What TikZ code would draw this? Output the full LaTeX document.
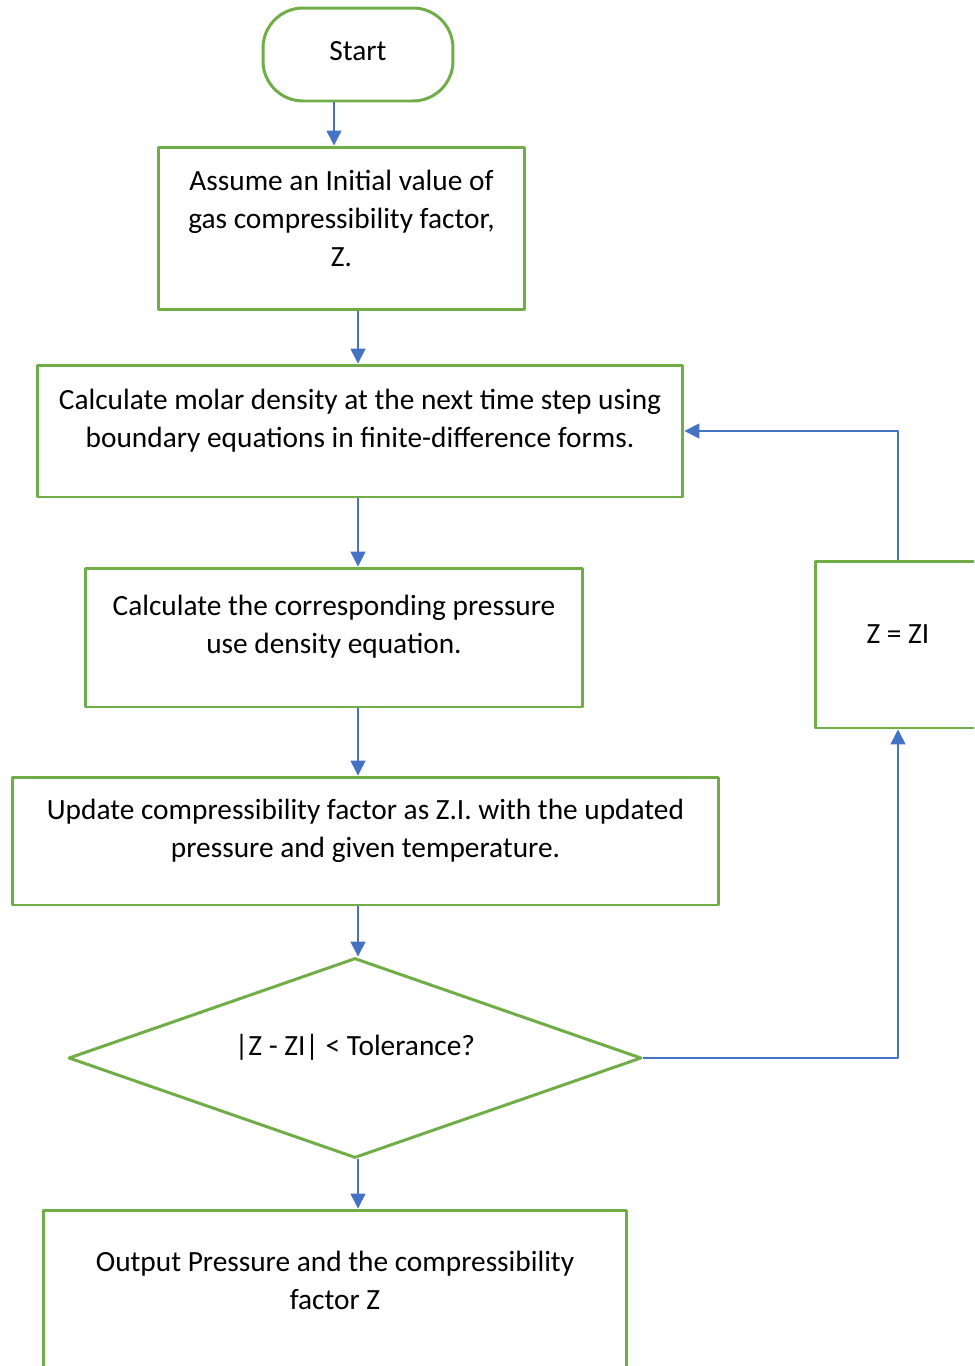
\documentclass[tikz,border=0pt]{standalone}
\usepackage{fontspec}
\setmainfont{Carlito}
\usetikzlibrary{arrows.meta,shapes.geometric}
\definecolor{boxgreen}{RGB}{112,173,71}
\definecolor{flowblue}{RGB}{68,114,196}
\begin{document}
\begin{tikzpicture}[x=0.02cm,y=-0.02cm,>={Triangle[length=0.3cm,width=0.3cm]},line join=round,
		font=\fontsize{16.7}{21.6}\selectfont,
		box/.style={draw=boxgreen,line width=1.7pt,inner sep=0pt},
		txt/.style={align=center,yshift=0.21cm},
		flow/.style={->,draw=flowblue,line width=0.85pt}]
	\path[use as bounding box,clip] (0,0) rectangle (974,1366);
	\coordinate (spine) at (358,0);
	\node[box,rounded corners=0.8cm,minimum width=3.8cm,minimum height=1.86cm,
		label={[txt,yshift=-0.14cm]center:Start}] (start) at (358,54.5) {};
	\node[box,minimum width=7.34cm,minimum height=3.26cm,
		label={[txt]center:{Assume an Initial value of\\gas compressibility factor,\\Z.}}] (b1) at (341.5,228.5) {};
	\node[box,minimum width=12.92cm,minimum height=2.64cm,
		label={[txt]center:{Calculate molar density at the next time step using\\boundary equations in finite-difference forms.}}] (b2) at (360,431) {};
	\node[box,minimum width=9.96cm,minimum height=2.78cm,
		label={[txt]center:{Calculate the corresponding pressure\\use density equation.}}] (b3) at (334,637.5) {};
	\node[box,minimum width=14.14cm,minimum height=2.56cm,
		label={[txt]center:{Update compressibility factor as Z.I. with the updated\\pressure and given temperature.}}] (b4) at (365.5,841) {};
	\node[box,diamond,aspect=2.865,minimum width=11.46cm,minimum height=4cm,
		label={[txt]center:{|Z - ZI| < Tolerance?}}] (dia) at (355,1058) {};
	\node[box,minimum width=11.68cm,minimum height=3.24cm,
		label={[txt]center:{Output Pressure and the compressibility\\factor Z}}] (b5) at (335,1291) {};
	\node[box,minimum width=3.32cm,minimum height=3.34cm,
		label={[txt]center:{Z = ZI}}] (zi) at (898,644.5) {};
	\draw[flow] ([xshift=-0.48cm]start.south) -- ([xshift=-0.48cm]start.south |- b1.north);
	\draw[flow] (spine |- b1.south) -- (spine |- b2.north);
	\draw[flow] (spine |- b2.south) -- (spine |- b3.north);
	\draw[flow] (spine |- b3.south) -- (spine |- b4.north);
	\draw[flow] (spine |- b4.south) -- (spine |- dia.north);
	\draw[flow] (spine |- dia.south) -- (spine |- b5.north);
	\draw[flow] (dia.east) -| (zi.south);
	\draw[flow] (zi.north) |- (b2.east);
\end{tikzpicture}
\end{document}
